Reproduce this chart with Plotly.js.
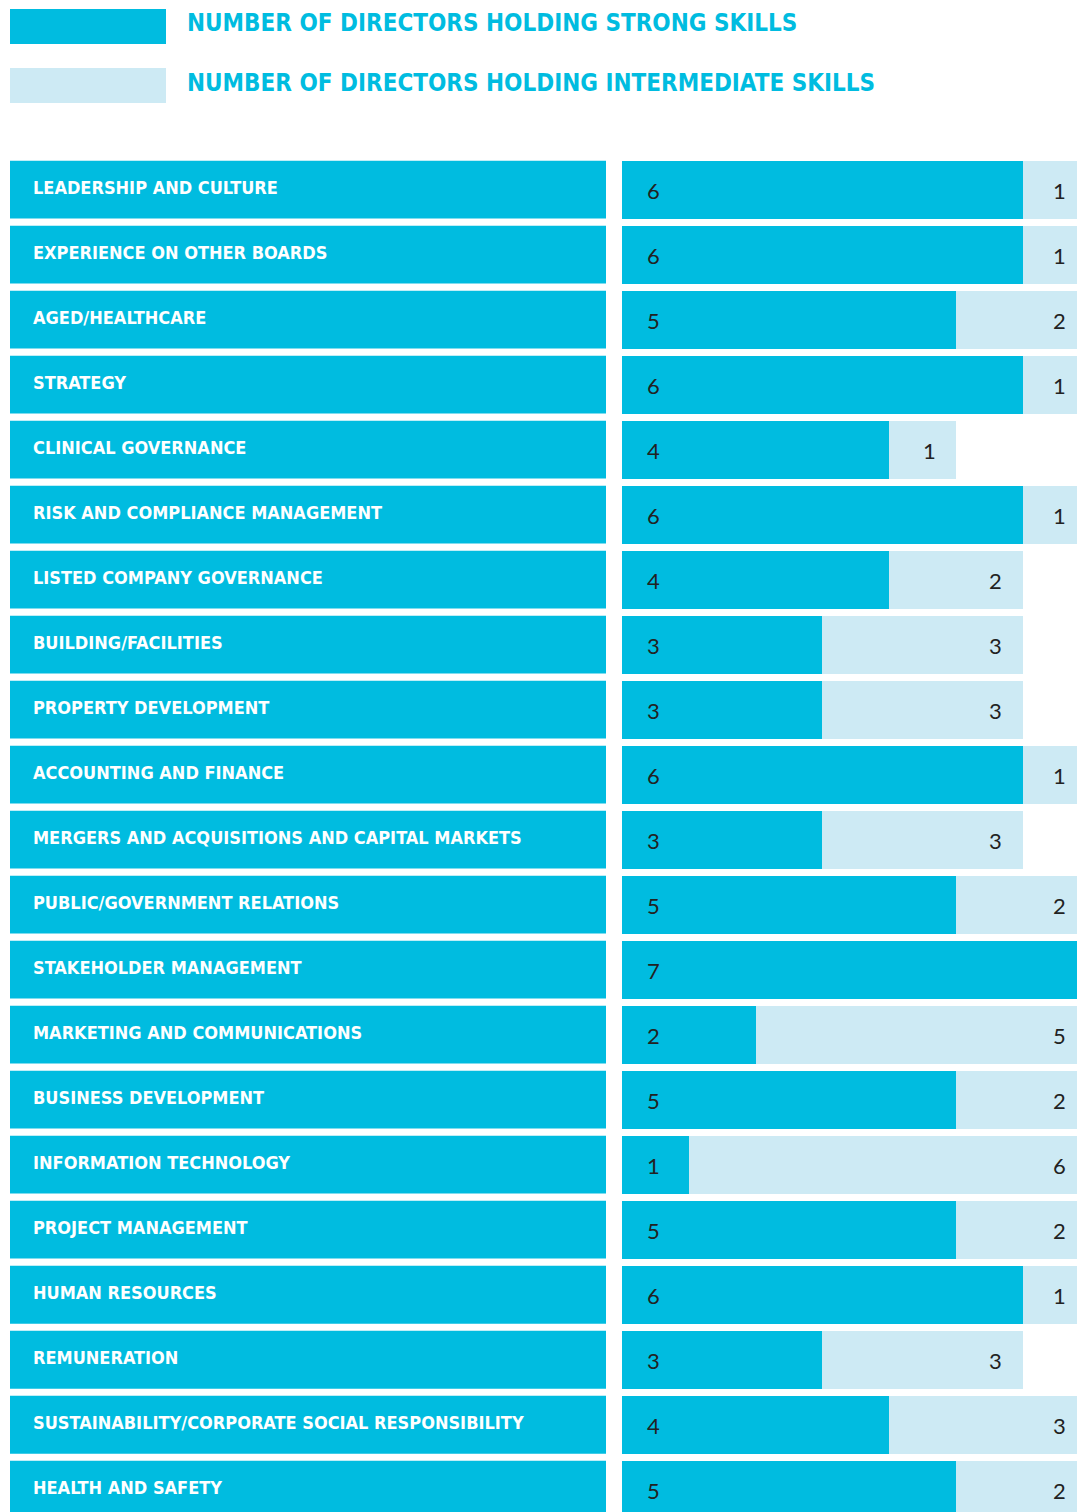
<!DOCTYPE html>
<html><head><meta charset="utf-8">
<script src="https://cdn.plot.ly/plotly-3.0.1.min.js"></script>
<style>html,body{margin:0;padding:0;background:#fff}#chart{width:1077px;height:1512px}</style>
</head><body><div id="chart"></div>
<script>
const categories = [
  "LEADERSHIP AND CULTURE","EXPERIENCE ON OTHER BOARDS","AGED/HEALTHCARE","STRATEGY",
  "CLINICAL GOVERNANCE","RISK AND COMPLIANCE MANAGEMENT","LISTED COMPANY GOVERNANCE",
  "BUILDING/FACILITIES","PROPERTY DEVELOPMENT","ACCOUNTING AND FINANCE",
  "MERGERS AND ACQUISITIONS AND CAPITAL MARKETS","PUBLIC/GOVERNMENT RELATIONS",
  "STAKEHOLDER MANAGEMENT","MARKETING AND COMMUNICATIONS","BUSINESS DEVELOPMENT",
  "INFORMATION TECHNOLOGY","PROJECT MANAGEMENT","HUMAN RESOURCES","REMUNERATION",
  "SUSTAINABILITY/CORPORATE SOCIAL RESPONSIBILITY","HEALTH AND SAFETY"
];
const strong =       [6,6,5,6,4,6,4,3,3,6,3,5,7,2,5,1,5,6,3,4,5];
const intermediate = [1,1,2,1,1,1,2,3,3,1,3,2,0,5,2,6,2,1,3,3,2];
const legendLabels = ["NUMBER OF DIRECTORS HOLDING STRONG SKILLS","NUMBER OF DIRECTORS HOLDING INTERMEDIATE SKILLS"];

const C_STRONG = "#00BCE0", C_INTER = "#CDEAF4";
const W = 1077, H = 1512;
const XMAX = 6.81;
const labelFont = "'DejaVu Sans Condensed', 'Liberation Sans Narrow', 'Open Sans', sans-serif";
const numFont = "Lato, 'Noto Sans', sans-serif";

const traces = [
  {type:"bar", orientation:"h", y:categories, x:strong, marker:{color:C_STRONG},
   width:0.88, hoverinfo:"skip", name:legendLabels[0], showlegend:false},
  {type:"bar", orientation:"h", y:categories, x:intermediate, marker:{color:C_INTER},
   width:0.88, hoverinfo:"skip", name:legendLabels[1], showlegend:false}
];

const shapes = [], annotations = [];
categories.forEach((c,i)=>{
  shapes.push({type:"rect", xref:"paper", yref:"y", x0:10/W, x1:606/W, y0:i-0.45, y1:i+0.44,
    fillcolor:C_STRONG, line:{width:0}, layer:"below"});
  annotations.push({xref:"paper", yref:"y", x:31/W, y:c, xanchor:"left", yanchor:"middle", yshift:3,
    text:c, showarrow:false, font:{family:labelFont, size:18, color:"#fff", weight:"bold"}});
  annotations.push({xref:"x", yref:"y", x:0, y:c, xanchor:"center", yanchor:"middle", xshift:31,
    text:String(strong[i]), showarrow:false, font:{family:numFont, size:22, color:"#222"}});
  if (intermediate[i] > 0) {
    const tot = strong[i] + intermediate[i];
    const clipped = tot > XMAX;
    annotations.push({xref:"x", yref:"y", x: clipped ? XMAX - 0.001 : tot, y:c, xanchor:"center", yanchor:"middle",
      xshift: clipped ? -17 : -27, text:String(intermediate[i]), showarrow:false,
      font:{family:numFont, size:22, color:"#222"}});
  }
});

// legend
[[C_STRONG, 9, 44], [C_INTER, 68, 103]].forEach((s,k)=>{
  shapes.push({type:"rect", xref:"paper", yref:"paper", x0:10/W, x1:166/W, y0:1-s[2]/H, y1:1-s[1]/H,
    fillcolor:s[0], line:{width:0}});
  annotations.push({xref:"paper", yref:"paper", x:185/W, y:1-((s[1]+s[2])/2)/H, xanchor:"left", yanchor:"middle",
    yshift:3, text:legendLabels[k], showarrow:false, font:{family:labelFont, size:24, color:C_STRONG, weight:"bold"}});
});

const layout = {
  width:W, height:H, margin:{l:0,r:0,t:0,b:0}, paper_bgcolor:"#fff", plot_bgcolor:"rgba(0,0,0,0)",
  barmode:"stack", showlegend:false,
  xaxis:{domain:[622/W, 1], range:[0, XMAX], showgrid:false, zeroline:false, showticklabels:false, showline:false, fixedrange:true},
  yaxis:{type:"category", range:[20.338, -2.923], showgrid:false, zeroline:false, showticklabels:false, showline:false, fixedrange:true},
  shapes, annotations
};
Plotly.newPlot("chart", traces, layout, {staticPlot:true, displayModeBar:false});
</script></body></html>
